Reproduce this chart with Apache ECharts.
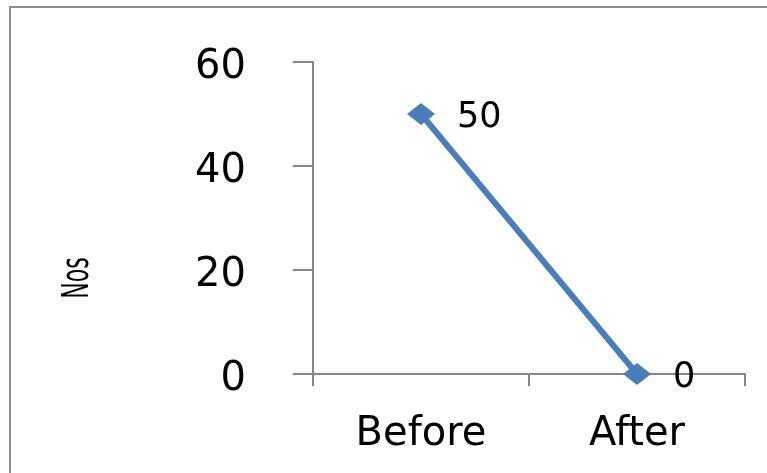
<!DOCTYPE html>
<html><head><meta charset="utf-8">
<script src="https://cdn.jsdelivr.net/npm/echarts@6/dist/echarts.min.js"></script>
<style>html,body{margin:0;padding:0;background:#fff}#c{width:767px;height:473px}</style>
</head><body><div id="c"></div>
<script>
const categories = ['Before', 'After'];
const values = [50, 0];
const yTicks = { min: 0, max: 60, interval: 20 };
const yName = 'Nos';

const chart = echarts.init(document.getElementById('c'));
const axisColor = '#868686';
const font = 'DejaVu Sans';
chart.setOption({
  animation: false,
  backgroundColor: '#fff',
  grid: { left: 313, top: 62, right: 22, bottom: 99 },
  xAxis: {
    type: 'category', data: categories, boundaryGap: true,
    axisLine: { lineStyle: { color: axisColor, width: 2 } },
    axisTick: { show: true, length: 12, lineStyle: { color: axisColor, width: 2 } },
    axisLabel: { color: '#000', fontFamily: font, fontSize: 40, margin: 41 }
  },
  yAxis: {
    type: 'value', min: yTicks.min, max: yTicks.max, interval: yTicks.interval,
    splitLine: { show: false },
    axisLine: { show: true, lineStyle: { color: axisColor, width: 2 } },
    axisTick: { show: true, length: 20, lineStyle: { color: axisColor, width: 2 } },
    axisLabel: {
      color: '#000', fontFamily: font, fontSize: 40, margin: 67,
      formatter: '{a|{value}}',
      rich: { a: { color: '#000', fontFamily: font, fontSize: 40, padding: [12, 0, 0, 0] } }
    }
  },
  graphic: [
    { type: 'rect', shape: { x: 10, y: 7, width: 800, height: 500 },
      style: { fill: 'none', stroke: '#8c8c8c', lineWidth: 2 }, silent: true },
    { type: 'text', x: 78, y: 278, rotation: Math.PI / 2, scaleX: 0.58,
      style: { text: yName, fill: '#000', font: '38px "DejaVu Sans"', textAlign: 'center', textVerticalAlign: 'middle' } }
  ],
  series: [{
    type: 'line', data: values,
    symbol: 'diamond', symbolSize: [28, 22],
    lineStyle: { color: '#4a7ebb', width: 6 },
    itemStyle: { color: '#4a7ebb' },
    label: { show: true, position: 'right', distance: 22, offset: [0, 4], color: '#000', fontFamily: font, fontSize: 35 }
  }]
});
</script></body></html>
